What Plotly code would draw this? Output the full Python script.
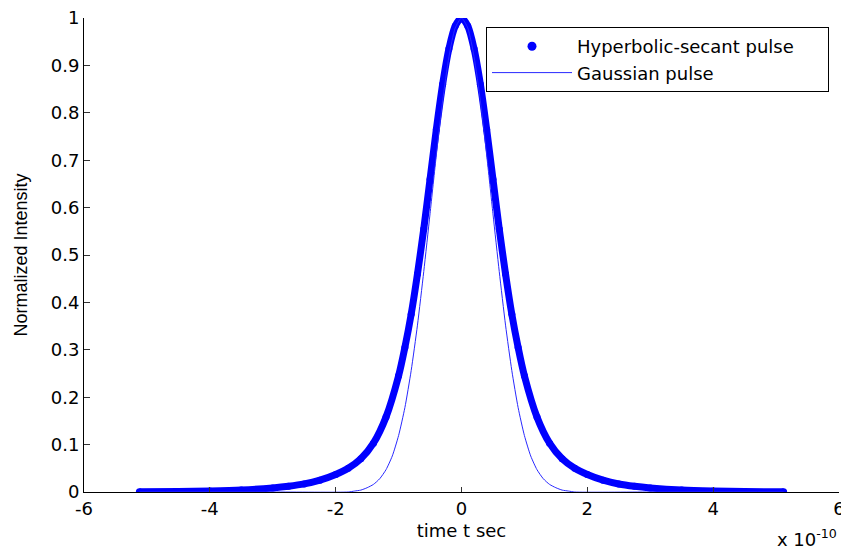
import plotly.graph_objects as go

# time axis in units of 1e-10 s (axis shows "x 10^-10")
t_sech = [-5.12, -4.5, -4.0, -3.5, -3.0, -2.75, -2.5, -2.25, -2.0, -1.8, -1.6, -1.4, -1.2,
          -1.0, -0.9, -0.8, -0.7, -0.6, -0.5, -0.4, -0.3, -0.2, -0.1, 0.0,
          0.1, 0.2, 0.3, 0.4, 0.5, 0.6, 0.7, 0.8, 0.9, 1.0,
          1.2, 1.4, 1.6, 1.8, 2.0, 2.25, 2.5, 2.75, 3.0, 3.5, 4.0, 4.5, 5.12]
i_sech = [0.0003, 0.001, 0.002, 0.004, 0.0085, 0.012, 0.017, 0.025, 0.037, 0.05, 0.07, 0.103, 0.158,
          0.245, 0.305, 0.375, 0.46, 0.555, 0.66, 0.765, 0.86, 0.935, 0.983, 1.0,
          0.983, 0.935, 0.86, 0.765, 0.66, 0.555, 0.46, 0.375, 0.305, 0.245,
          0.158, 0.103, 0.07, 0.05, 0.037, 0.025, 0.017, 0.012, 0.0085, 0.004, 0.002, 0.001, 0.0003]

t_gauss = [-5.12, -3.0, -1.8, -1.7, -1.6, -1.5, -1.4, -1.3, -1.2, -1.1, -1.0, -0.9, -0.8, -0.7,
           -0.6, -0.5, -0.4, -0.3, -0.2, -0.1, 0.0, 0.1, 0.2, 0.3, 0.4, 0.5, 0.6, 0.7,
           0.8, 0.9, 1.0, 1.1, 1.2, 1.3, 1.4, 1.5, 1.6, 1.7, 1.8, 3.0, 5.12]
i_gauss = [0.0, 0.0, 0.0, 0.002, 0.004, 0.009, 0.016, 0.028, 0.047, 0.076, 0.119, 0.178, 0.256, 0.352,
           0.465, 0.587, 0.711, 0.825, 0.918, 0.979, 1.0, 0.979, 0.918, 0.825, 0.711, 0.587, 0.465, 0.352,
           0.256, 0.178, 0.119, 0.076, 0.047, 0.028, 0.016, 0.009, 0.004, 0.002, 0.0, 0.0, 0.0]

x_tick_vals = [-6, -4, -2, 0, 2, 4, 6]
x_tick_labels = ["-6", "-4", "-2", "0", "2", "4", "6"]
y_tick_vals = [0, 0.1, 0.2, 0.3, 0.4, 0.5, 0.6, 0.7, 0.8, 0.9, 1.0]
y_tick_labels = ["0", "0.1", "0.2", "0.3", "0.4", "0.5", "0.6", "0.7", "0.8", "0.9", "1"]

series_names = ["Hyperbolic-secant pulse", "Gaussian pulse"]

FONT = "DejaVu Sans"
BLUE = "rgb(0,0,255)"
PAD = "\u00a0" * 5  # widens the legend box like the reference

fig = go.Figure()
fig.add_trace(go.Scatter(
    x=t_sech, y=i_sech, mode="lines+markers",
    line=dict(color=BLUE, width=7, shape="spline", smoothing=0.8),
    marker=dict(color=BLUE, size=7),
    showlegend=False, legendgroup="sech", hoverinfo="skip"))
fig.add_trace(go.Scatter(
    x=[None], y=[None], mode="markers",
    marker=dict(color=BLUE, size=9),
    name=series_names[0] + PAD, legendgroup="sech"))
fig.add_trace(go.Scatter(
    x=t_gauss, y=i_gauss, mode="lines",
    line=dict(color="rgb(40,40,255)", width=1, shape="spline", smoothing=0.6),
    name=series_names[1]))

fig.update_layout(
    width=841, height=550,
    margin=dict(l=84, r=2, t=18, b=58, autoexpand=False),
    paper_bgcolor="white", plot_bgcolor="white",
    font=dict(family=FONT, size=18, color="black"),
    showlegend=True,
    legend=dict(
        x=(486 - 84) / 755, y=(492 - 27) / 474, xanchor="left", yanchor="top",
        bgcolor="white", bordercolor="black", borderwidth=1,
        font=dict(family=FONT, size=18, color="black"),
        itemwidth=80, tracegroupgap=0,
    ),
    xaxis=dict(
        range=[-6, 6], tickvals=x_tick_vals, ticktext=x_tick_labels,
        ticks="inside", ticklen=5, tickcolor="#333", tickwidth=1,
        showline=True, linecolor="black", linewidth=1, mirror=False,
        showgrid=False, zeroline=False, ticklabeloverflow="allow", automargin=False,
        tickfont=dict(family=FONT, size=18),
        title=dict(text="time t sec", font=dict(family=FONT, size=18), standoff=6),
    ),
    yaxis=dict(
        range=[0, 1], tickvals=y_tick_vals, ticktext=y_tick_labels,
        ticks="inside", ticklen=6, tickcolor="#333", tickwidth=1,
        showline=True, linecolor="black", linewidth=1, mirror=False,
        showgrid=False, zeroline=False, automargin=False,
        tickfont=dict(family=FONT, size=18),
        title=dict(text="Normalized Intensity", font=dict(family="Liberation Sans", size=18), standoff=18),
    ),
    annotations=[dict(
        xref="paper", yref="paper", x=1.0, y=-0.127, xanchor="right", yanchor="bottom",
        text="x 10<sup>-10</sup>", showarrow=False,
        font=dict(family=FONT, size=18, color="black"),
    )],
)

fig.write_html("out.html")
